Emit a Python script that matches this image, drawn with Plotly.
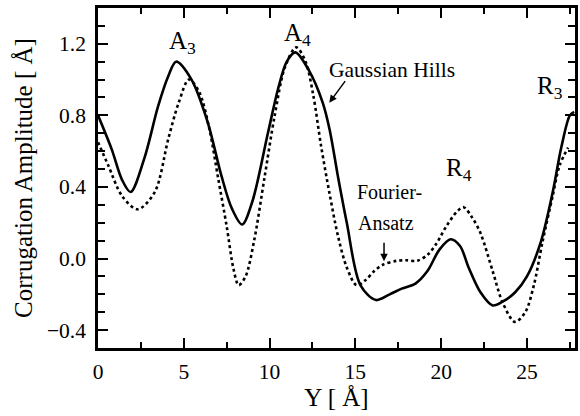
import plotly.graph_objects as go

# Gaussian Hills (solid)
gh_x = [0.0, 0.8, 1.4, 1.9, 2.7, 3.5, 4.1, 4.55, 5.45, 6.4, 7.2, 7.8, 8.4, 9.0, 9.9, 10.5, 11.0, 11.5,
        12.3, 13.1, 13.5, 14.0, 14.5, 15.3, 16.2, 17.0, 17.7, 18.5, 19.2, 19.9, 20.55, 21.1, 21.6, 22.3,
        23.0, 23.6, 24.3, 25.0, 25.8, 26.5, 27.0, 27.5, 27.75]
gh_y = [0.80, 0.61, 0.44, 0.372, 0.56, 0.85, 1.02, 1.10, 1.00, 0.76, 0.46, 0.28, 0.19, 0.32, 0.70, 0.95,
        1.10, 1.152, 1.05, 0.87, 0.72, 0.45, 0.20, -0.15, -0.232, -0.20, -0.168, -0.14, -0.07, 0.05,
        0.108, 0.07, -0.05, -0.19, -0.262, -0.24, -0.19, -0.10, 0.09, 0.37, 0.62, 0.80, 0.82]

# Fourier-Ansatz (dotted)
fa_x = [0.0, 0.6, 1.4, 2.3, 3.3, 4.1, 4.7, 5.3, 5.9, 6.5, 7.0, 7.5, 7.9, 8.2, 8.6, 9.1, 9.7, 10.3, 10.9,
        11.55, 12.1, 12.55, 13.0, 13.5, 14.0, 14.5, 15.07, 15.6, 16.1, 16.6, 17.4, 18.0, 18.6, 19.2, 19.7,
        20.3, 20.9, 21.3, 21.8, 22.3, 23.0, 23.6, 24.3, 24.9, 25.4, 25.9, 26.5, 26.9, 27.4]
fa_y = [0.65, 0.52, 0.35, 0.275, 0.37, 0.67, 0.87, 1.00, 0.93, 0.72, 0.45, 0.18, -0.06, -0.149, -0.10,
        0.10, 0.45, 0.80, 1.07, 1.18, 1.10, 0.91, 0.63, 0.36, 0.12, -0.05, -0.149, -0.12, -0.07, -0.035,
        -0.013, -0.01, -0.013, 0.02, 0.08, 0.18, 0.26, 0.287, 0.23, 0.14, -0.07, -0.25, -0.354, -0.30,
        -0.15, 0.09, 0.35, 0.52, 0.62]

FONT = "Liberation Serif"

fig = go.Figure()
fig.add_trace(go.Scatter(x=gh_x, y=gh_y, mode="lines", line=dict(color="black", width=2.6, shape="spline", smoothing=0.9),
                         showlegend=False))
fig.add_trace(go.Scatter(x=fa_x, y=fa_y, mode="lines", line=dict(color="black", width=2.6, dash="dot", shape="spline", smoothing=0.9),
                         showlegend=False))

labels = [
    ("A<sub>3</sub>", 4.95, 1.208, 25),
    ("A<sub>4</sub>", 11.6, 1.253, 25),
    ("R<sub>3</sub>", 26.34, 0.957, 25),
    ("R<sub>4</sub>", 21.04, 0.499, 25),
    ("Gaussian Hills", 17.13, 1.052, 21.5),
    ("Fourier-", 16.96, 0.37, 20),
    ("Ansatz", 16.78, 0.20, 20),
]
for t, x, y, s in labels:
    fig.add_annotation(x=x, y=y, xref="x", yref="y", text=t, showarrow=False,
                       font=dict(family=FONT, size=s, color="black"))

fig.add_annotation(x=13.48, y=0.871, xref="x", yref="y", text="", showarrow=True,
                   ax=17, ay=-23, arrowhead=2, arrowsize=1, arrowwidth=1.5, arrowcolor="black")
fig.add_annotation(x=16.67, y=-0.015, xref="x", yref="y", text="", showarrow=True,
                   ax=0, ay=-20, arrowhead=2, arrowsize=1, arrowwidth=1.5, arrowcolor="black")

axis_common = dict(showline=True, linecolor="black", linewidth=2.5, mirror="allticks", ticks="inside",
                   tickcolor="black", tickwidth=2, ticklen=10, showgrid=False, zeroline=False,
                   tickfont=dict(family=FONT, size=21.5, color="black"))

fig.update_xaxes(range=[0, 27.8], tick0=0, dtick=5,
                 title=dict(text="Y [ Å]", font=dict(family=FONT, size=25, color="black"), standoff=4),
                 minor=dict(ticks="inside", dtick=2.5, ticklen=6, tickcolor="black", tickwidth=2),
                 ticklabelstandoff=2, **axis_common)
fig.update_yaxes(range=[-0.5, 1.4], tick0=0, dtick=0.4, tickformat=".1f",
                 title=dict(text="Corrugation Amplitude [ Å]", font=dict(family=FONT, size=25, color="black"), standoff=8),
                 minor=dict(ticks="inside", dtick=0.1, ticklen=7, tickcolor="black", tickwidth=2),
                 ticklabelstandoff=5, **axis_common)

fig.update_layout(width=580, height=416, margin=dict(l=98, r=5, t=8, b=68, autoexpand=False),
                  plot_bgcolor="white", paper_bgcolor="white", font=dict(family=FONT, color="black"))

fig.write_html("out.html")
